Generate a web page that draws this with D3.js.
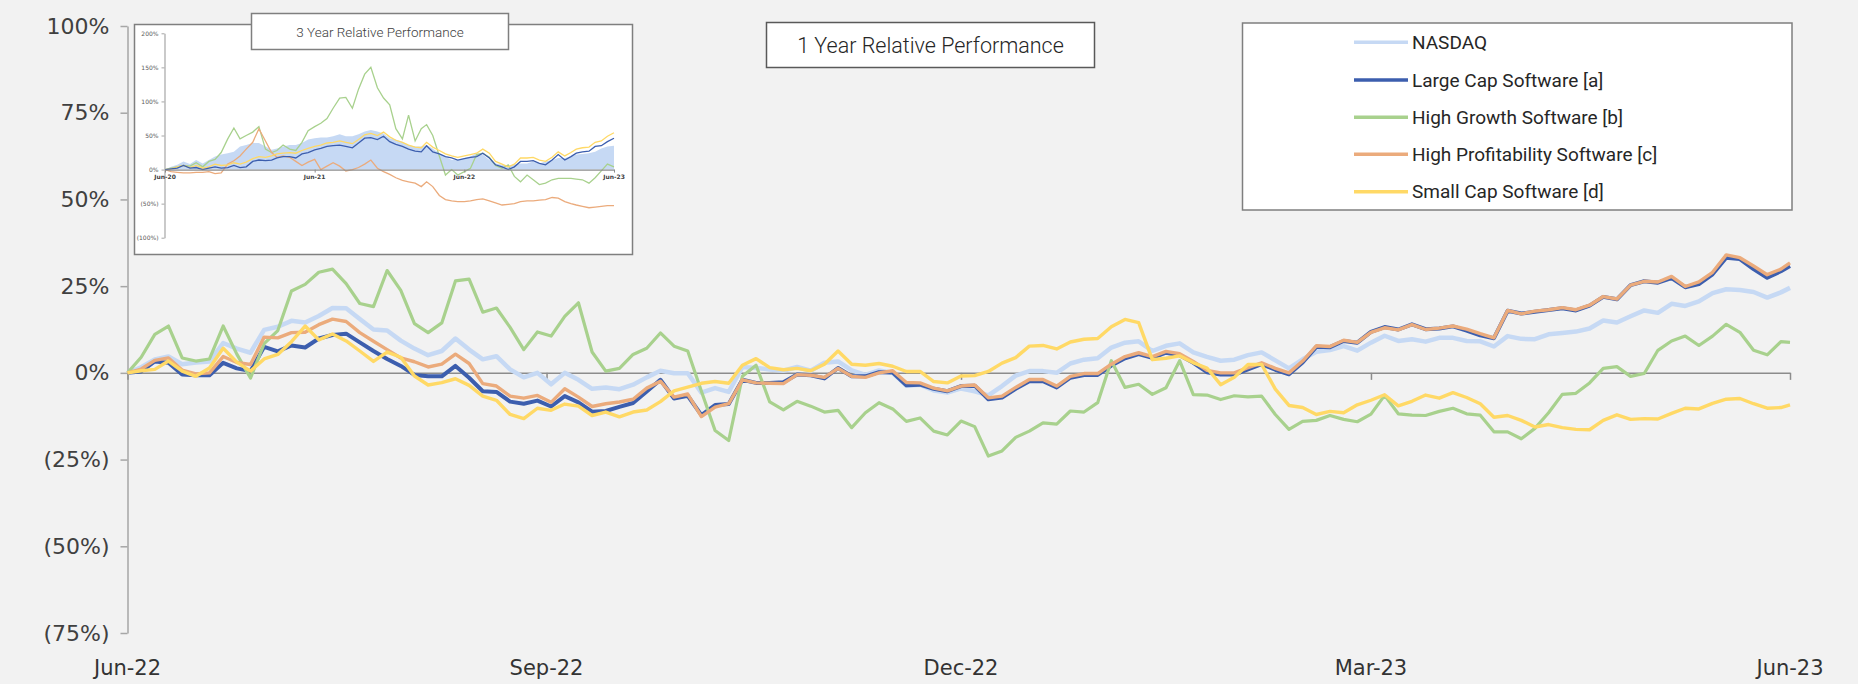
<!DOCTYPE html>
<html><head><meta charset="utf-8">
<script src="https://cdn.jsdelivr.net/npm/d3@7"></script>
<style>
html,body{margin:0;padding:0;background:#f2f2f2;}
svg{display:block;}
</style></head><body>
<svg id="chart" width="1858" height="684"></svg>
<script>
// ---------- 1 year data (relative performance, %) ----------
const dates = [
"2022-06-30","2022-07-03","2022-07-06","2022-07-09","2022-07-12","2022-07-15","2022-07-18","2022-07-21","2022-07-24","2022-07-27","2022-07-30",
"2022-08-02","2022-08-05","2022-08-08","2022-08-11","2022-08-14","2022-08-17","2022-08-20","2022-08-23","2022-08-26","2022-08-29",
"2022-09-01","2022-09-04","2022-09-07","2022-09-10","2022-09-13","2022-09-16","2022-09-19","2022-09-22","2022-09-25","2022-09-28",
"2022-10-01","2022-10-04","2022-10-07","2022-10-10","2022-10-13","2022-10-16","2022-10-19","2022-10-22","2022-10-25","2022-10-28","2022-10-31",
"2022-11-03","2022-11-06","2022-11-09","2022-11-12","2022-11-15","2022-11-18","2022-11-21","2022-11-24","2022-11-27","2022-11-30",
"2022-12-03","2022-12-06","2022-12-09","2022-12-12","2022-12-15","2022-12-18","2022-12-21","2022-12-24","2022-12-27","2022-12-30",
"2023-01-02","2023-01-05","2023-01-08","2023-01-11","2023-01-14","2023-01-17","2023-01-20","2023-01-23","2023-01-26","2023-01-29",
"2023-02-01","2023-02-04","2023-02-07","2023-02-10","2023-02-13","2023-02-16","2023-02-19","2023-02-22","2023-02-25","2023-02-28",
"2023-03-03","2023-03-06","2023-03-09","2023-03-12","2023-03-15","2023-03-18","2023-03-21","2023-03-24","2023-03-27","2023-03-30",
"2023-04-02","2023-04-05","2023-04-08","2023-04-11","2023-04-14","2023-04-17","2023-04-20","2023-04-23","2023-04-26","2023-04-29",
"2023-05-02","2023-05-05","2023-05-08","2023-05-11","2023-05-14","2023-05-17","2023-05-20","2023-05-23","2023-05-26","2023-05-29",
"2023-06-01","2023-06-04","2023-06-07","2023-06-10","2023-06-13","2023-06-16","2023-06-19","2023-06-22","2023-06-25","2023-06-28",
"2023-06-30"];

const nasdaq = [
0, 1.6, 3.9, 4.7, 2.5, 3.0, 3.3, 8.6, 7.0, 5.8, 12.4, 13.3, 15.0, 14.5, 16.4, 18.7, 18.6, 15.5, 12.5, 12.2, 9.3, 7.0, 5.1, 6.3, 9.9, 6.7, 3.9, 4.8, 1.0, -1.3, 0.0, -3.3,
0.0, -2.0, -4.6, -4.2, -4.7, -3.4, -1.3, 0.6, -0.1, -0.1, -5.7, -4.4, -5.5, 1.7, 1.4, 1.0, 0.6, 1.7, 0.6, 2.9, 3.3, 0.7, -0.6, 0.7, 0.0, -3.7, -3.4, -5.1, -5.7, -4.5, -5.3,
-6.5, -3.8, -0.8, 0.5, 0.5, 0.0, 2.7, 3.8, 4.2, 7.3, 8.7, 9.1, 6.3, 7.8, 8.5, 5.9, 4.6, 3.5, 3.8, 5.1, 5.9, 3.6, 1.3, 3.9, 6.1, 6.6, 7.7, 6.4, 8.7, 10.7, 9.2,
9.7, 9.0, 10.1, 10.1, 9.2, 9.1, 7.6, 10.6, 9.8, 9.7, 11.1, 11.5, 11.9, 12.8, 15.1, 14.5, 16.3, 18.0, 17.3, 19.9, 19.3, 20.6, 23.0, 24.1, 23.9, 23.3, 21.7, 23.2, 24.5];

const largeCap = [
0, 0.4, 3.3, 2.9, -0.5, -0.7, -0.7, 2.9, 1.3, 0.5, 7.5, 6.2, 7.9, 7.3, 9.9, 10.9, 11.3, 8.8, 6.3, 4.0, 2.0, -0.6, -1.0, -1.0, 2.0, -1.4, -5.3, -5.5, -8.3, -8.9, -8.0, -9.7,
-6.7, -8.5, -11.2, -11.0, -9.8, -8.7, -5.4, -2.0, -7.4, -6.6, -12.2, -9.3, -9.0, -2.0, -2.9, -2.9, -2.7, -0.5, -0.7, -1.6, 1.4, -1.0, -1.0, 0.2, 0.1, -3.6, -3.4, -4.6, -5.3, -3.8, -3.7,
-7.6, -7.1, -4.6, -2.4, -2.4, -4.2, -1.4, -0.6, -0.6, 2.1, 4.2, 5.4, 4.3, 5.8, 5.1, 2.9, 0.2, -0.5, -0.5, 1.0, 2.5, 0.9, -0.4, 3.0, 7.5, 7.4, 9.2, 8.7, 11.8, 13.2, 12.5,
14.0, 12.6, 12.8, 13.4, 12.2, 10.8, 10.0, 17.9, 17.1, 17.6, 18.1, 18.6, 18.0, 19.4, 21.9, 21.2, 25.3, 26.4, 26.0, 27.3, 24.7, 25.6, 28.4, 33.2, 32.8, 29.9, 27.4, 29.3, 30.8];

const highGrowth = [
0, 4.5, 11.1, 13.5, 4.3, 3.4, 4.0, 13.5, 5.4, -1.5, 8.4, 12.2, 23.6, 25.5, 29.0, 29.9, 25.7, 20.0, 19.1, 29.5, 23.8, 14.2, 11.6, 14.4, 26.5, 27.0, 17.5, 18.7, 13.1, 6.7, 11.8, 10.6,
16.3, 20.2, 6.0, 0.5, 1.3, 5.3, 7.1, 11.5, 7.7, 6.3, -5.3, -16.6, -19.5, -1.0, 2.2, -8.4, -10.7, -8.2, -9.6, -11.3, -10.8, -15.8, -11.5, -8.6, -10.4, -14.0, -13.0, -16.8, -17.9, -13.9, -15.5,
-24.0, -22.5, -18.6, -16.8, -14.4, -14.8, -11.0, -11.3, -8.6, 3.5, -4.2, -3.3, -6.2, -4.3, 3.5, -6.3, -6.4, -7.7, -6.6, -6.9, -6.7, -12.0, -16.3, -14.0, -13.7, -12.3, -13.4, -14.1, -11.9, -6.5, -11.8,
-12.2, -12.3, -11.1, -10.2, -11.8, -12.2, -17.0, -17.0, -19.0, -16.0, -11.5, -6.2, -5.9, -2.9, 1.3, 1.8, -1.0, -0.2, 6.5, 9.2, 10.6, 7.9, 10.6, 14.0, 11.7, 6.5, 5.2, 9.0, 8.8];

const highProfit = [
0, 1.1, 3.6, 4.3, 0.8, -0.3, 0.0, 4.7, 3.0, 2.4, 10.3, 10.1, 11.6, 11.7, 13.9, 15.5, 14.8, 11.6, 9.1, 6.7, 4.3, 3.2, 1.7, 2.5, 5.4, 2.7, -3.1, -3.8, -6.7, -7.3, -6.5, -8.5,
-4.6, -7.0, -9.7, -8.9, -8.4, -7.6, -4.4, -2.4, -7.0, -6.1, -12.6, -9.9, -8.9, -2.0, -2.9, -3.0, -3.1, -0.5, -0.7, -1.3, 1.3, -1.0, -1.3, 0.0, 0.6, -2.8, -2.9, -4.4, -5.2, -3.8, -3.5,
-7.2, -6.7, -4.2, -1.9, -1.9, -3.8, -1.0, -0.2, -0.2, 2.5, 4.7, 5.8, 4.7, 6.2, 5.5, 3.3, 0.7, 0.0, 0.0, 1.5, 2.9, 1.3, 0.0, 3.4, 7.8, 7.6, 9.4, 8.8, 11.7, 13.0, 12.4,
13.9, 12.5, 12.9, 13.5, 12.6, 11.3, 10.1, 18.0, 17.0, 17.8, 18.2, 18.8, 18.2, 19.5, 22.0, 21.3, 25.3, 26.4, 26.2, 27.8, 24.9, 26.2, 29.0, 34.0, 33.2, 30.8, 28.3, 29.9, 31.7];

const smallCap = [
0, 0.6, 1.0, 3.4, 0.5, -1.0, 1.4, 7.1, 3.1, 0.5, 4.0, 5.3, 9.0, 13.5, 9.5, 11.2, 9.2, 6.3, 3.3, 6.0, 4.5, -0.9, -3.5, -2.8, -1.7, -3.6, -6.7, -7.9, -12.0, -13.2, -10.2, -10.8,
-9.0, -9.6, -12.3, -11.3, -12.7, -11.3, -10.7, -8.3, -5.2, -4.1, -3.0, -2.5, -3.0, 2.2, 4.1, 1.5, 0.9, 1.3, 0.6, 2.5, 6.3, 2.5, 2.2, 2.7, 1.9, 0.4, 0.4, -2.5, -2.9, -0.9, -0.8,
0.4, 2.8, 4.4, 7.7, 7.9, 6.9, 8.9, 9.7, 9.9, 13.3, 15.4, 14.5, 3.8, 4.2, 4.9, 2.9, 1.4, -3.4, -1.3, 2.4, 2.4, -4.7, -9.4, -10.0, -12.0, -11.1, -11.5, -9.2, -7.9, -6.3, -9.5,
-8.2, -6.4, -7.3, -5.7, -7.1, -8.9, -12.8, -12.3, -13.7, -15.6, -14.9, -15.8, -16.3, -16.4, -13.7, -12.1, -13.4, -13.2, -13.3, -11.7, -10.2, -10.4, -8.8, -7.6, -7.4, -8.9, -10.2, -10.0, -9.2];

const seriesNames = ["NASDAQ","Large Cap Software [a]","High Growth Software [b]","High Profitability Software [c]","Small Cap Software [d]"];
const yTicks = [100, 75, 50, 25, 0, -25, -50, -75];
const xTickDates = ["2022-06-30","2022-09-30","2022-12-30","2023-03-30","2023-06-30"];
const xTickLabels = ["Jun-22","Sep-22","Dec-22","Mar-23","Jun-23"];
const mainTitle = "1 Year Relative Performance";

// ---------- 3 year inset data (semi-monthly, %) ----------
const dates3y = [
"2020-06-01","2020-06-16","2020-07-01","2020-07-16","2020-08-01","2020-08-16","2020-09-01","2020-09-16","2020-10-01","2020-10-16","2020-11-01","2020-11-16","2020-12-01","2020-12-16",
"2021-01-01","2021-01-16","2021-02-01","2021-02-16","2021-03-01","2021-03-16","2021-04-01","2021-04-16","2021-05-01","2021-05-16","2021-06-01","2021-06-16",
"2021-07-01","2021-07-16","2021-08-01","2021-08-16","2021-09-01","2021-09-16","2021-10-01","2021-10-16","2021-11-01","2021-11-16","2021-12-01","2021-12-16",
"2022-01-01","2022-01-16","2022-02-01","2022-02-16","2022-03-01","2022-03-16","2022-04-01","2022-04-16","2022-05-01","2022-05-16","2022-06-01","2022-06-16",
"2022-07-01","2022-07-16","2022-08-01","2022-08-16","2022-09-01","2022-09-16","2022-10-01","2022-10-16","2022-11-01","2022-11-16","2022-12-01","2022-12-16",
"2023-01-01","2023-01-16","2023-02-01","2023-02-16","2023-03-01","2023-03-16","2023-04-01","2023-04-16","2023-05-01","2023-05-16","2023-06-01"];
const nasdaq3y = [0,4,7,12,8,14,9,14,19,22, 24,26,34,36,39,39,34,29,31,34, 36,36,39,44,46,47,47,49,52,49, 49,52,56,58,56,53,46,44,41,36,
  34,34,36,31,24,19,14,14,17,19, 24,22,14,9,7,6,7,9,9,12, 9,12,14,17,17,19,22,23,24,26, 31,34,35];
const largeCap3y = [0,1,2,6,2,3,0,2,4,2, 3,6,3,4,12,14,13,14,17,19, 19,17,23,25,29,31,34,35,36,34, 32,39,46,47,44,49,41,37,34,30,
  27,26,35,26,23,19,17,14,16,18, 19,24,17,7,4,0,4,12,12,13, 9,7,14,22,14,19,24,26,27,34, 35,41,46];
const highGrowth3y = [0,2,4,6,5,10,4,12,15,25, 45,61,45,50,55,63,30,25,28,36, 30,28,40,57,63,68,75,90,105,106, 90,118,140,150,120,105,95,60,45,80,
  42,60,66,50,20,-8,0,-8,-3,2, 22,24,18,6,2,7,-10,-18,-8,-15, -22,-20,-15,-13,-13,-13,-14,-15,-20,-12, -2,8,4];
const highProfit3y = [0,-3,-4,-5,-5,-4,-4,-3,-6,-5, 8,13,20,30,40,60,42,25,18,20, 18,12,6,11,15,0,5,10,5,-2, 0,3,8,14,2,-3,-7,-12,-16,-18,
  -20,-25,-18,-25,-38,-44,-46,-47,-47,-46, -44,-43,-46,-49,-52,-51,-50,-47,-46,-46, -45,-44,-41,-42,-47,-50,-52,-54,-56,-55, -54,-53,-53];
const smallCap3y = [0,1,4,6,3,6,2,4,8,6, 7,10,8,11,16,19,18,20,23,24, 25,24,28,31,34,36,39,40,42,40, 38,44,51,53,50,55,48,43,40,36,
  33,32,40,33,28,23,20,18,20,22, 24,30,24,12,8,4,8,17,17,18, 14,12,18,26,20,25,30,32,33,40, 42,49,54];
const y3Ticks = [200, 150, 100, 50, 0, -50, -100];
const x3TickDates = ["2020-06-01","2021-06-01","2022-06-01","2023-06-01"];
const x3TickLabels = ["Jun-20","Jun-21","Jun-22","Jun-23"];
const insetTitle = "3 Year Relative Performance";

// ---------- drawing ----------
const colors = ["#c6d9f4","#3c5eae","#a8d18d","#ebab7c","#ffd966"];
const widths = [4.5, 4, 3.2, 3.4, 3.4];
const parseDay = d3.timeParse("%Y-%m-%d");
const pct = v => v < 0 ? "(" + (-v) + "%)" : v + "%";

const svg = d3.select("#chart");
svg.append("rect").attr("width",1858).attr("height",684).attr("fill","#f2f2f2");

const x = d3.scaleTime().domain([parseDay(dates[0]), parseDay(dates[dates.length-1])]).range([127.5, 1790]);
const y = d3.scaleLinear().domain([-75, 100]).range([633, 26]);

// y axis
const yAxis = svg.append("g").attr("transform","translate(127.5,0)")
  .call(d3.axisLeft(y).tickValues(yTicks).tickSize(7).tickSizeOuter(0).tickPadding(11).tickFormat(pct));
yAxis.select(".domain").attr("stroke","#a6a6a6").attr("stroke-width",1.5);
yAxis.selectAll(".tick line").attr("stroke","#a6a6a6").attr("stroke-width",1.5);
yAxis.selectAll(".tick text").attr("font-family","DejaVu Sans").attr("font-size",22).attr("fill","#404040");

// x axis at zero
const xAxis = svg.append("g").attr("transform","translate(0," + y(0) + ")")
  .call(d3.axisBottom(x).tickValues(xTickDates.map(parseDay)).tickSize(7).tickSizeOuter(0).tickFormat(""));
xAxis.select(".domain").attr("stroke","#8c8c8c").attr("stroke-width",1.5);
xAxis.selectAll(".tick line").attr("stroke","#8c8c8c").attr("stroke-width",1.5);
svg.append("g").selectAll("text").data(xTickDates).join("text")
  .attr("x", d => x(parseDay(d))).attr("y", 675)
  .attr("text-anchor","middle").attr("font-family","DejaVu Sans").attr("font-size",21).attr("fill","#333")
  .text((d,i) => xTickLabels[i]);

// lines
const seriesData = [nasdaq, largeCap, highGrowth, highProfit, smallCap];
const line = d3.line().x((d,i) => x(parseDay(dates[i]))).y(d => y(d));
svg.append("g").selectAll("path").data(seriesData).join("path")
  .attr("d", d => line(d)).attr("fill","none")
  .attr("stroke", (d,i) => colors[i]).attr("stroke-width", (d,i) => widths[i])
  .attr("stroke-linejoin","round");

// main title box
svg.append("rect").attr("x",766.5).attr("y",22.5).attr("width",328).attr("height",45)
  .attr("fill","#fff").attr("stroke","#595959").attr("stroke-width",1.5);
svg.append("text").attr("x",930.5).attr("y",52.5).attr("text-anchor","middle")
  .attr("font-family","Roboto").attr("font-weight",300).attr("font-size",21.5).attr("fill","#262626").text(mainTitle);

// legend
svg.append("rect").attr("x",1242.5).attr("y",23).attr("width",549.5).attr("height",187)
  .attr("fill","#fff").attr("stroke","#7f7f7f").attr("stroke-width",1.5);
const legRows = [42.3, 80, 117.3, 154.3, 191.7];
const leg = svg.append("g").selectAll("g").data(seriesNames).join("g")
  .attr("transform",(d,i) => "translate(0," + legRows[i] + ")");
leg.append("line").attr("x1",1354).attr("x2",1408).attr("stroke",(d,i)=>colors[i]).attr("stroke-width",3.5);
leg.append("text").attr("x",1412).attr("dy","0.35em").attr("font-family","Roboto").attr("font-size",19)
  .attr("fill","#262626").text(d => d);

// ---------- inset ----------
svg.append("rect").attr("x",134.5).attr("y",24.5).attr("width",498).attr("height",230)
  .attr("fill","#fff").attr("stroke","#7f7f7f").attr("stroke-width",1.5);
const x3 = d3.scaleTime().domain([parseDay(dates3y[0]), parseDay(dates3y[dates3y.length-1])]).range([165, 614]);
const y3 = d3.scaleLinear().domain([-100, 200]).range([237.7, 33.3]);
const y3Axis = svg.append("g").attr("transform","translate(164.5,0)")
  .call(d3.axisLeft(y3).tickValues(y3Ticks).tickSize(3).tickSizeOuter(0).tickPadding(3).tickFormat(pct));
y3Axis.select(".domain").attr("stroke","#a6a6a6").attr("stroke-width",1.2);
y3Axis.selectAll(".tick line").attr("stroke","#a6a6a6");
y3Axis.selectAll(".tick text").attr("font-family","DejaVu Sans").attr("font-size",6).attr("fill","#595959");

const area3 = d3.area().x((d,i) => x3(parseDay(dates3y[i]))).y0(y3(0)).y1(d => y3(d));
svg.append("path").attr("d", area3(nasdaq3y)).attr("fill", colors[0]);
const line3 = d3.line().x((d,i) => x3(parseDay(dates3y[i]))).y(d => y3(d));
const inset3 = [[highGrowth3y, colors[2]], [highProfit3y, colors[3]], [smallCap3y, colors[4]], [largeCap3y, colors[1]]];
svg.append("g").selectAll("path").data(inset3).join("path")
  .attr("d", d => line3(d[0])).attr("fill","none").attr("stroke", d => d[1]).attr("stroke-width",1.3);

const x3Axis = svg.append("g").attr("transform","translate(0," + y3(0) + ")")
  .call(d3.axisBottom(x3).tickValues(x3TickDates.map(parseDay)).tickSize(3).tickSizeOuter(0).tickFormat(""));
x3Axis.select(".domain").attr("stroke","#8c8c8c").attr("stroke-width",1.2);
x3Axis.selectAll(".tick line").attr("stroke","#8c8c8c");
svg.append("g").selectAll("text").data(x3TickDates).join("text")
  .attr("x", d => x3(parseDay(d))).attr("y", y3(0) + 9.5).attr("text-anchor","middle")
  .attr("font-family","DejaVu Sans").attr("font-weight","bold").attr("font-size",6).attr("fill","#404040")
  .text((d,i) => x3TickLabels[i]);

svg.append("rect").attr("x",251.5).attr("y",13.5).attr("width",257).attr("height",36)
  .attr("fill","#fff").attr("stroke","#7f7f7f").attr("stroke-width",1.5);
svg.append("text").attr("x",380).attr("y",36.5).attr("text-anchor","middle")
  .attr("font-family","Roboto").attr("font-weight",300).attr("font-size",13.5).attr("fill","#404040").text(insetTitle);
</script>
</body></html>
